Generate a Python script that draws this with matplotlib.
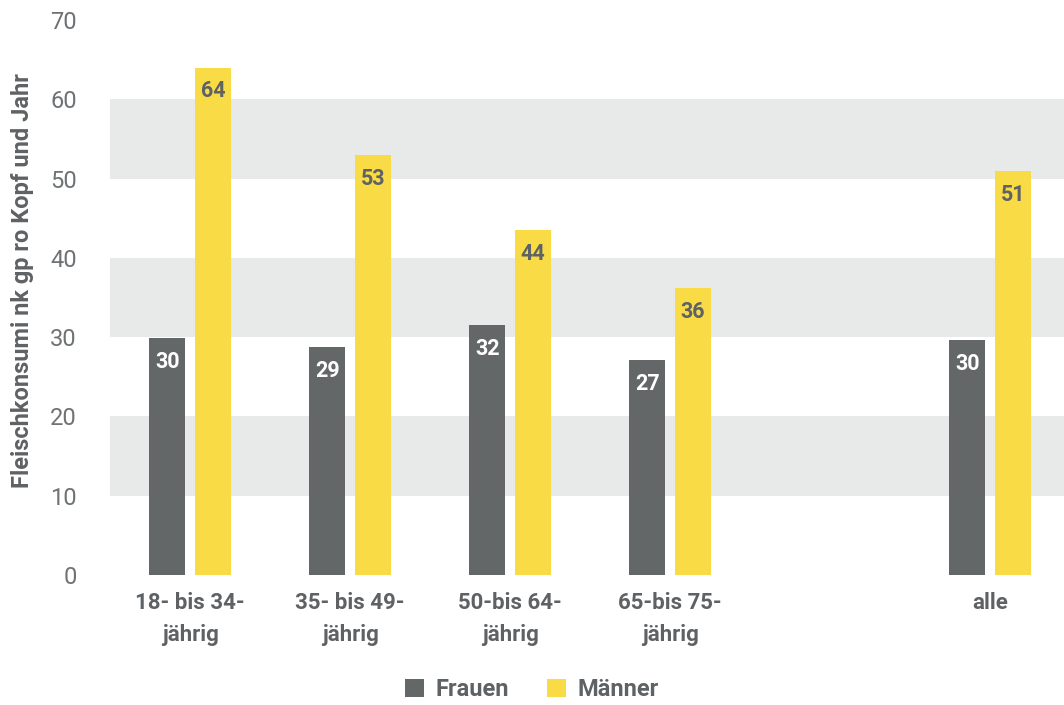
import matplotlib.pyplot as plt
import numpy as np

categories = ["18- bis 34-\njährig", "35- bis 49-\njährig", "50-bis 64-\njährig", "65-bis 75-\njährig", "alle"]
positions = [0, 1, 2, 3, 5]
frauen = [29.9, 28.7, 31.5, 27.1, 29.6]
maenner = [64.0, 53.0, 43.5, 36.2, 50.9]
frauen_labels = ["30", "29", "32", "27", "30"]
maenner_labels = ["64", "53", "44", "36", "51"]

GRAY = "#646768"
YELLOW = "#f9dc45"
TEXT = "#5f6264"
BAND = "#e8e9e9"

plt.rcParams['font.family'] = ['Roboto', 'DejaVu Sans']

fig = plt.figure(figsize=(10.64, 7.05), dpi=100)
ax = fig.add_axes([110 / 1064, 1 - 575 / 705, 954 / 1064, 555 / 705])

for lo in (10, 30, 50):
    ax.axhspan(lo, lo + 10, color=BAND, zorder=0, lw=0)

w = 0.225
off = 0.143
x = np.array(positions)
ax.bar(x - off, frauen, width=w, color=GRAY, zorder=2, label="Frauen")
ax.bar(x + off, maenner, width=w, color=YELLOW, zorder=2, label="Männer")

for xi, v, t in zip(x, frauen, frauen_labels):
    ax.text(xi - off, v - 3.0, t, ha="center", va="center", color="white",
            fontsize=15.5, fontweight="bold", zorder=3)
for xi, v, t in zip(x, maenner, maenner_labels):
    ax.text(xi + off, v - 3.0, t, ha="center", va="center", color=TEXT,
            fontsize=15.5, fontweight="bold", zorder=3)

ax.set_xlim(-0.5, 5.46)
ax.set_ylim(0, 70)
ax.set_yticks(range(0, 71, 10))
ax.set_xticks(positions)
ax.set_xticklabels(categories, fontsize=16, fontweight="bold", color=TEXT, linespacing=1.6)
ax.tick_params(axis="y", length=0, labelsize=17, labelcolor="#6f7274", pad=24)
ax.tick_params(axis="x", length=0, pad=12)
for s in ax.spines.values():
    s.set_visible(False)

ax.set_ylabel("Fleischkonsumi nk gp ro Kopf und Jahr", fontsize=17, fontweight="bold",
              color=TEXT)
ax.yaxis.set_label_coords(-76 / 954, 0.53)

leg = fig.legend(loc="center", bbox_to_anchor=(532 / 1064, 1 - 690 / 705), ncol=2,
                 frameon=False, fontsize=17, handlelength=0.8, handleheight=0.8,
                 columnspacing=1.6, handletextpad=0.5)
for t in leg.get_texts():
    t.set_color(TEXT)
    t.set_fontweight("bold")

fig.savefig("out.png", dpi=100)
